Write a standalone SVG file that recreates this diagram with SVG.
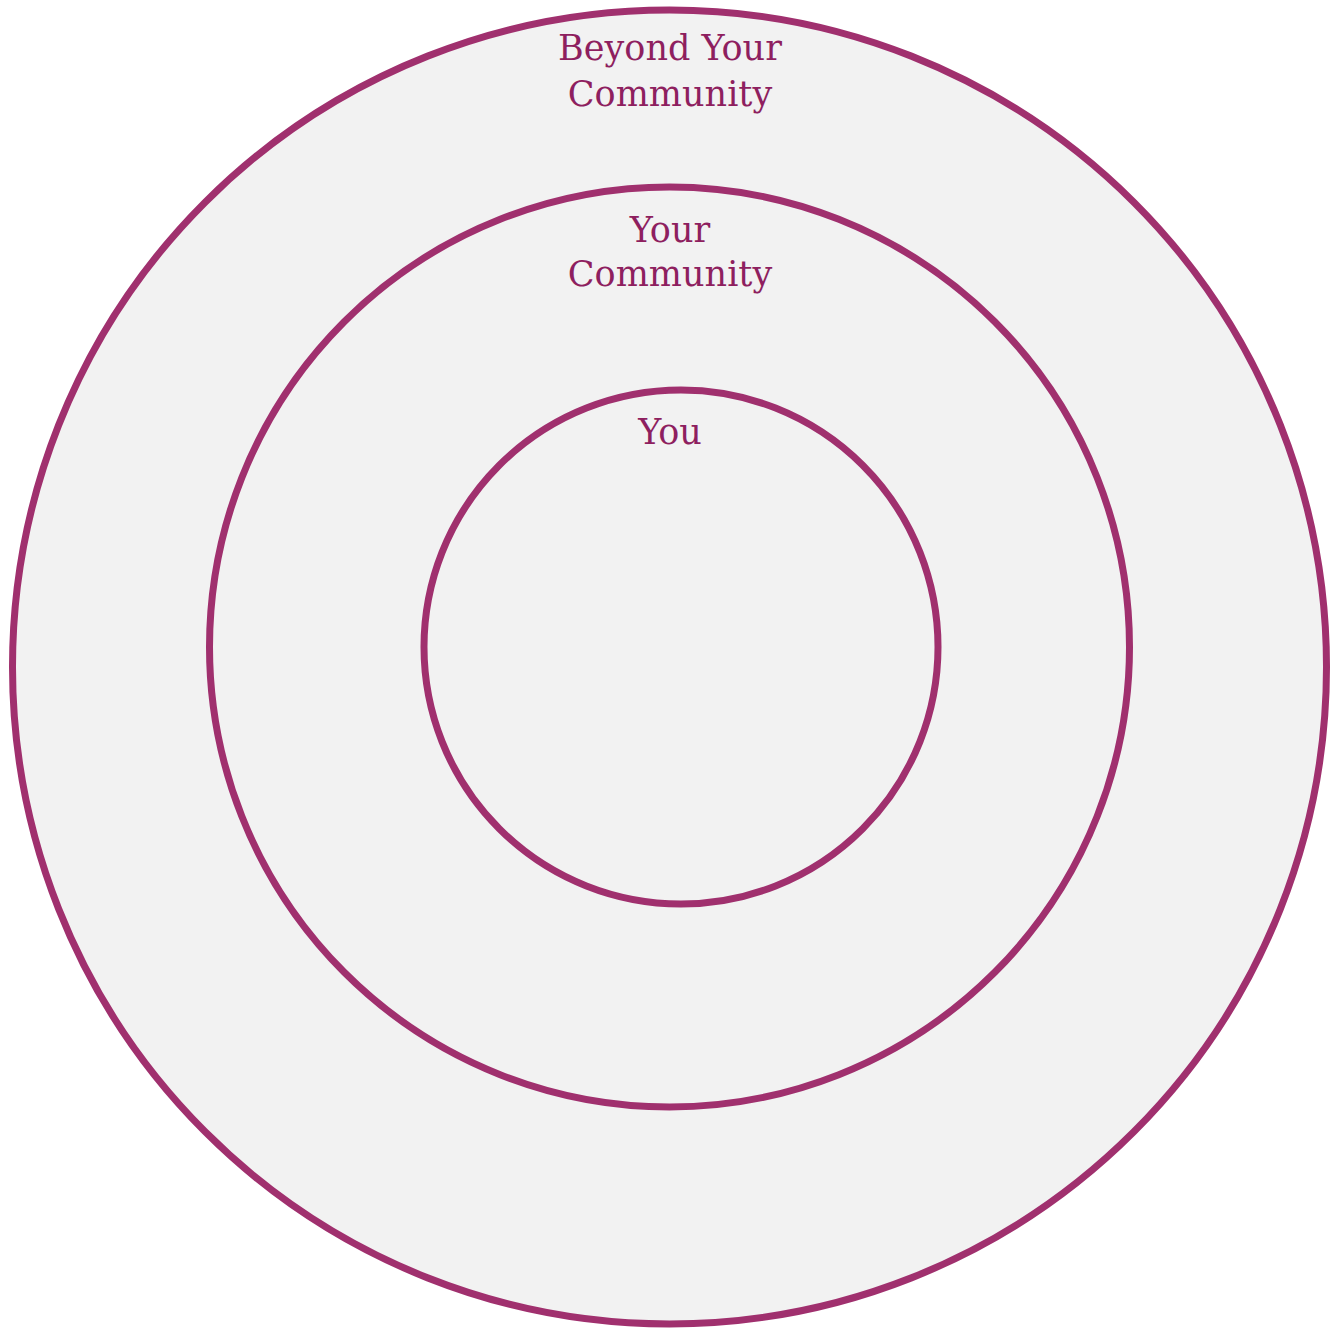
<svg xmlns="http://www.w3.org/2000/svg" width="1333" height="1328" viewBox="0 0 1333 1328">
<style>
.ring{fill:#f2f2f2;stroke:#a0306e;stroke-width:7}
.lbl{font-family:"DejaVu Serif","Liberation Serif",serif;font-size:35px;fill:#8e1f5f;text-anchor:middle}
</style>
<rect width="1333" height="1328" fill="#ffffff"/>
<g id="beyond">
<circle class="ring" cx="669.5" cy="667" r="657"/>
<text class="lbl" x="670" y="60">Beyond Your</text>
<text class="lbl" x="670" y="106">Community</text>
</g>
<g id="community">
<circle class="ring" cx="669.5" cy="647" r="460"/>
<text class="lbl" x="670" y="242">Your</text>
<text class="lbl" x="670" y="286">Community</text>
</g>
<g id="you">
<circle class="ring" cx="681" cy="647" r="257"/>
<text class="lbl" x="670" y="444">You</text>
</g>
<g id="connectors"/>
</svg>
